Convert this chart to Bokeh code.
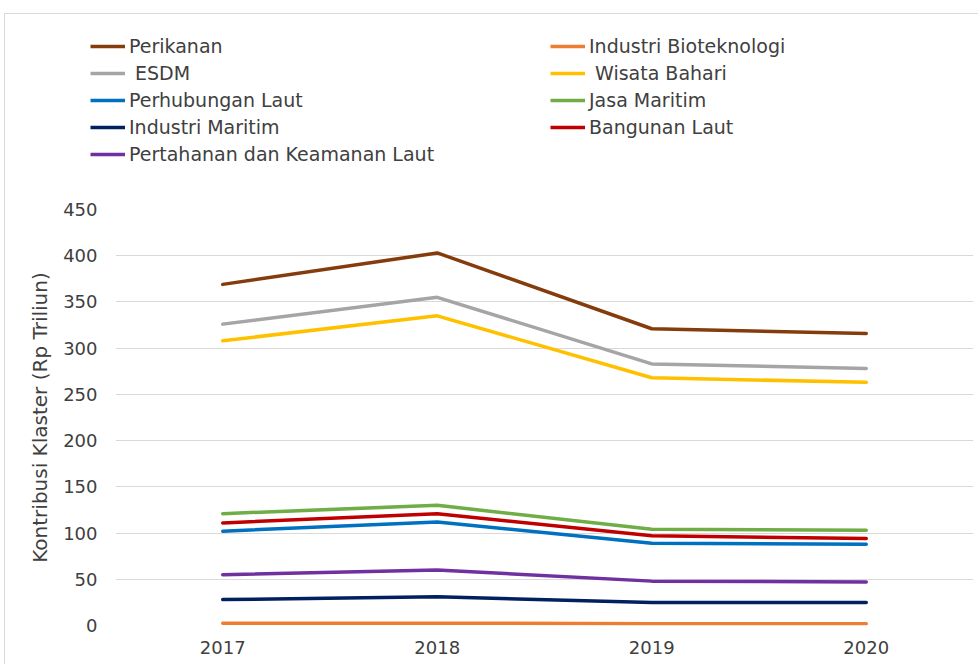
from bokeh.plotting import figure
from bokeh.models import FactorRange, Range1d, FixedTicker, Legend, LegendItem
from bokeh.layouts import column
from bokeh.embed import file_html
from bokeh.resources import INLINE

years = ["2017", "2018", "2019", "2020"]

perikanan = [369, 403, 321, 316]
bioteknologi = [2.5, 2.5, 2, 2]
esdm = [326, 355, 283, 278]
wisata_bahari = [308, 335, 268, 263]
perhubungan_laut = [102, 112, 89, 88]
jasa_maritim = [121, 130, 104, 103]
industri_maritim = [28, 31, 25, 25]
bangunan_laut = [111, 121, 97, 94]
pertahanan = [55, 60, 48, 47]

y_ticks = [0, 50, 100, 150, 200, 250, 300, 350, 400, 450]

series = [
    ("Perikanan", perikanan, "#843C0C"),
    ("Industri Bioteknologi", bioteknologi, "#ED7D31"),
    (" ESDM", esdm, "#A5A5A5"),
    (" Wisata Bahari", wisata_bahari, "#FFC000"),
    ("Perhubungan Laut", perhubungan_laut, "#0070C0"),
    ("Jasa Maritim", jasa_maritim, "#70AD47"),
    ("Industri Maritim", industri_maritim, "#002060"),
    ("Bangunan Laut", bangunan_laut, "#C00000"),
    ("Pertahanan dan Keamanan Laut", pertahanan, "#7030A0"),
]

FONT = "DejaVu Sans"
TXT = "#404040"
LW = 3.5

# ---- main chart ----
p = figure(
    width=973, height=484,
    x_range=FactorRange(*years, range_padding=0),
    y_range=Range1d(0, 450),
    output_backend="svg", toolbar_location=None,
    min_border_left=110, min_border_right=5,
    min_border_top=29, min_border_bottom=39,
)
p.outline_line_color = None

for name, vals, col in series:
    p.line(years, vals, line_color=col, line_width=LW, line_cap="round")

p.xgrid.grid_line_color = None
p.ygrid.ticker = FixedTicker(ticks=y_ticks)
p.ygrid.grid_line_color = "#D9D9D9"
p.ygrid.grid_line_width = 1

p.yaxis.ticker = FixedTicker(ticks=y_ticks)
for ax in (p.xaxis, p.yaxis):
    ax.axis_line_color = None
    ax.major_tick_line_color = None
    ax.minor_tick_line_color = None
    ax.major_tick_out = 0
    ax.major_tick_in = 0
    ax.minor_tick_out = 0
    ax.major_label_text_font = FONT
    ax.major_label_text_font_size = "18px"
    ax.major_label_text_color = TXT
p.yaxis.major_label_standoff = 18
p.xaxis.major_label_standoff = 15
p.yaxis.axis_label = "Kontribusi Klaster (Rp Triliun)"
p.yaxis.axis_label_text_font = FONT
p.yaxis.axis_label_text_font_size = "20px"
p.yaxis.axis_label_text_font_style = "normal"
p.yaxis.axis_label_text_color = TXT
p.yaxis.axis_label_standoff = 8

# ---- legend strip ----
lp = figure(
    width=973, height=166,
    x_range=Range1d(0, 1), y_range=Range1d(0, 1),
    x_axis_type=None, y_axis_type=None,
    output_backend="svg", toolbar_location=None,
    min_border=0,
)
lp.outline_line_color = None
lp.grid.visible = False
if "frame_align" in lp.properties():
    lp.frame_align = False
    p.frame_align = False

leg_renderers = {}
for name, vals, col in series:
    # off-screen placeholder so the legend can show each series' line style
    leg_renderers[name] = lp.line([-5, -4], [-5, -4], line_color=col, line_width=LW)

left_names = ["Perikanan", " ESDM", "Perhubungan Laut", "Industri Maritim", "Pertahanan dan Keamanan Laut"]
right_names = ["Industri Bioteknologi", " Wisata Bahari", "Jasa Maritim", "Bangunan Laut"]


def make_legend(names, loc):
    return Legend(
        items=[LegendItem(label=n, renderers=[leg_renderers[n]]) for n in names],
        location=loc,
        orientation="vertical",
        padding=0, margin=0, spacing=5,
        glyph_width=35, glyph_height=20, label_height=20,
        label_standoff=4,
        label_text_font=FONT, label_text_font_size="19px", label_text_color=TXT,
        background_fill_alpha=0, border_line_alpha=0,
    )

lp.add_layout(make_legend(left_names, (85, 15)))
lp.add_layout(make_legend(right_names, (545, 42)))

layout = column(lp, p, spacing=0)
layout.styles = {
    "border-left": "1px solid #D9D9D9",
    "border-top": "1px solid #D9D9D9",
    "margin-left": "4px",
    "margin-top": "13px",
}
open("out.html", "w").write(file_html(layout, INLINE))
